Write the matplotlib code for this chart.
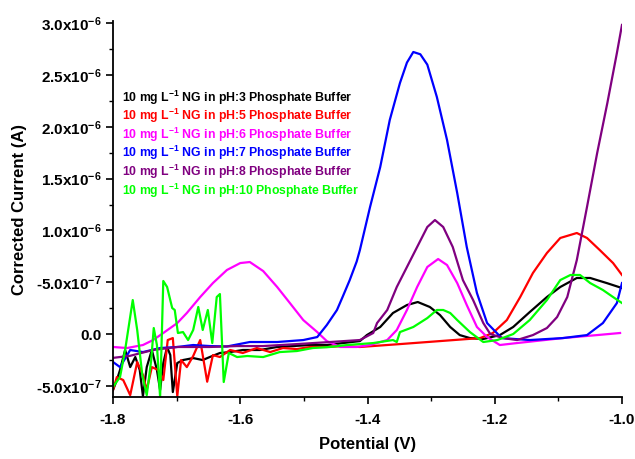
import numpy as np
import matplotlib
matplotlib.use('Agg')
import matplotlib.pyplot as plt
from matplotlib.ticker import FixedLocator, MultipleLocator

plt.rcParams['font.family'] = ['Liberation Sans', 'DejaVu Sans']
plt.rcParams['font.weight'] = 'bold'
plt.rcParams['mathtext.fontset'] = 'custom'
plt.rcParams['mathtext.rm'] = 'Liberation Sans:bold'
plt.rcParams['mathtext.bf'] = 'Liberation Sans:bold'
plt.rcParams['mathtext.default'] = 'bf'

# datos (corriente en unidades de 1e-7 A)
v_ph3 = [-1.800, -1.794, -1.789, -1.781, -1.773, -1.765, -1.758, -1.753, -1.747, -1.739,
         -1.731, -1.726, -1.721, -1.715, -1.710, -1.706, -1.699, -1.690, -1.674, -1.659,
         -1.648, -1.632, -1.616, -1.596, -1.569, -1.542, -1.517, -1.490, -1.464, -1.439,
         -1.412, -1.401, -1.380, -1.360, -1.338, -1.321, -1.302, -1.286, -1.270, -1.255,
         -1.239, -1.218, -1.192, -1.171, -1.145, -1.118, -1.097, -1.071, -1.050, -1.024, -1.000]
i_ph3 = [-5.4, -4.44, -3.47, -1.54, -3.19, -2.22, -3.47, -6.0, -3.19, -1.54,
         -3.47, -5.4, -2.80, -1.25, -2.03, -5.6, -2.80, -2.51, -2.32, -2.51,
         -2.22, -1.83, -1.74, -1.54, -1.54, -1.25, -1.16, -1.06, -1.06, -0.87,
         -0.68, -0.10, 0.68, 2.03, 2.80, 3.09, 2.61, 1.83, 0.68, -0.10,
         -0.39, -0.48, -0.10, 0.68, 2.12, 3.57, 4.54, 5.41, 5.41, 4.92, 4.44]

v_ph5 = [-1.800, -1.794, -1.784, -1.773, -1.762, -1.753, -1.747, -1.739, -1.729, -1.721,
         -1.714, -1.706, -1.699, -1.693, -1.684, -1.674, -1.663, -1.652, -1.643, -1.632,
         -1.616, -1.596, -1.574, -1.553, -1.533, -1.511, -1.490, -1.464, -1.439, -1.412,
         -1.349, -1.286, -1.223, -1.203, -1.181, -1.160, -1.140, -1.118, -1.097, -1.071,
         -1.055, -1.035, -1.014, -1.000]
i_ph5 = [-5.4, -4.15, -4.44, -5.9, -2.70, -3.96, -5.4, -3.19, -3.47, -4.44,
         -0.58, -0.39, -6.0, -2.51, -3.19, -2.12, -0.58, -4.6, -2.03, -2.22,
         -1.54, -1.83, -1.35, -1.74, -1.35, -1.45, -1.25, -1.25, -1.16, -1.25,
         -0.97, -0.68, -0.39, 0.10, 1.35, 3.57, 5.89, 7.82, 9.27, 9.75,
         9.27, 8.11, 6.85, 5.70]

v_ph6 = [-1.800, -1.778, -1.753, -1.737, -1.721, -1.699, -1.684, -1.663, -1.643, -1.621,
         -1.600, -1.585, -1.564, -1.542, -1.522, -1.501, -1.479, -1.464, -1.443, -1.417,
         -1.396, -1.369, -1.354, -1.338, -1.322, -1.306, -1.289, -1.275, -1.259, -1.244,
         -1.228, -1.212, -1.192, -1.165, -1.093, -1.039, -1.003]
i_ph6 = [-1.25, -1.35, -1.06, -0.58, 0.10, 1.06, 2.03, 3.57, 4.92, 6.18,
         6.85, 6.95, 6.08, 4.54, 2.99, 1.35, 0.19, -0.68, -1.25, -1.25,
         -1.06, -0.58, 0.39, 2.32, 4.54, 6.47, 7.24, 6.66, 4.92, 2.80,
         0.68, -0.29, -1.06, -0.87, -0.39, -0.10, 0.10]

v_ph7 = [-1.800, -1.789, -1.773, -1.753, -1.726, -1.699, -1.674, -1.648, -1.621, -1.585,
         -1.542, -1.501, -1.479, -1.464, -1.448, -1.439, -1.428, -1.417, -1.412, -1.396,
         -1.380, -1.365, -1.349, -1.338, -1.328, -1.317, -1.306, -1.291, -1.275, -1.259,
         -1.244, -1.228, -1.212, -1.189, -1.145, -1.093, -1.055, -1.030, -1.008, -1.000]
i_ph7 = [-2.70, -3.19, -1.54, -1.74, -1.35, -1.25, -1.06, -1.16, -1.20, -0.77,
         -0.77, -0.58, -0.29, 0.87, 2.32, 3.60, 5.20, 7.00, 8.10, 12.26,
         16.12, 20.66, 24.23, 26.2, 27.22, 27.0, 26.0, 22.88, 18.73, 13.61,
         8.40, 3.96, 1.06, -0.39, -0.58, -0.39, -0.10, 1.06, 2.99, 4.92]

v_ph8 = [-1.800, -1.773, -1.737, -1.699, -1.648, -1.605, -1.564, -1.511, -1.459, -1.412,
         -1.391, -1.385, -1.369, -1.354, -1.338, -1.322, -1.306, -1.294, -1.281, -1.266,
         -1.250, -1.234, -1.218, -1.207, -1.187, -1.165, -1.140, -1.118, -1.102, -1.086,
         -1.071, -1.055, -1.039, -1.023, -1.008, -1.000]
i_ph8 = [-2.3, -2.1, -1.54, -1.25, -1.25, -1.16, -1.16, -0.97, -0.77, -0.58,
         0.10, 1.06, 2.32, 4.54, 6.47, 8.40, 10.33, 11.00, 10.33, 8.40,
         5.20, 3.28, 1.06, 0.0, -0.39, -0.58, -0.10, 0.58, 1.64, 3.57,
         7.14, 12.26, 17.47, 22.30, 27.12, 29.83]

v_ph10 = [-1.800, -1.789, -1.781, -1.775, -1.769, -1.762, -1.754, -1.747, -1.740, -1.736,
          -1.731, -1.726, -1.721, -1.715, -1.707, -1.703, -1.698, -1.690, -1.682, -1.674,
          -1.666, -1.659, -1.651, -1.644, -1.637, -1.632, -1.626, -1.618, -1.605, -1.589,
          -1.564, -1.538, -1.511, -1.486, -1.459, -1.432, -1.391, -1.360, -1.354, -1.349,
          -1.328, -1.306, -1.291, -1.281, -1.270, -1.259, -1.239, -1.218, -1.196, -1.171,
          -1.145, -1.118, -1.097, -1.081, -1.066, -1.050, -1.030, -1.014, -1.000]
i_ph10 = [-5.1, -4.15, -1.54, 0.87, 3.28, 0.39, -3.96, -5.9, -2.51, 0.58,
          -1.06, -6.1, 5.12, 4.54, 2.51, 2.32, 0.10, 0.19, -0.58, 0.39,
          2.61, 0.39, 2.32, -0.87, 3.57, 3.86, -4.63, -1.83, -2.22, -2.12,
          -2.22, -1.74, -1.64, -1.35, -1.25, -1.06, -0.87, -0.58, -0.77, 0.19,
          0.68, 1.54, 2.32, 2.32, 2.03, 1.35, 0.19, -0.77, -0.58, 0.0,
          1.35, 3.28, 5.21, 5.70, 5.70, 4.92, 4.25, 3.57, 2.99]

series = [(v_ph3, i_ph3, 'black', '3'),
          (v_ph5, i_ph5, 'red', '5'),
          (v_ph6, i_ph6, '#FF00FF', '6'),
          (v_ph7, i_ph7, 'blue', '7'),
          (v_ph8, i_ph8, '#800080', '8'),
          (v_ph10, i_ph10, '#00FF00', '10')]

y_ticks = [-5e-7, 0, 5e-7, 1e-6, 1.5e-6, 2e-6, 2.5e-6, 3e-6]
y_ticklabels = ['-5.0x10$^{-7}$', '0.0', '-5.0x10$^{-7}$', '1.0x10$^{-6}$',
                '1.5x10$^{-6}$', '2.0x10$^{-6}$', '2.5x10$^{-6}$', '3.0x10$^{-6}$']

fig = plt.figure(figsize=(6.35, 4.59), dpi=100)
ax = fig.add_axes([0.178, 0.135, 0.8015, 0.819])

for v, i, c, ph in series:
    ax.plot(v, np.array(i) * 1e-7, color=c, lw=1.6)

ax.set_xlim(-1.8, -1.0)
ax.set_ylim(-6.08e-7, 3.02e-6)
ax.xaxis.set_minor_locator(MultipleLocator(0.1))
ax.set_xticks([-1.8, -1.6, -1.4, -1.2, -1.0])
ax.set_xticklabels(['-1.8', '-1.6', '-1.4', '-1.2', '-1.0'])
ax.yaxis.set_major_locator(FixedLocator(y_ticks))
ax.set_yticklabels(y_ticklabels)
ax.yaxis.set_minor_locator(MultipleLocator(2.5e-7))

ax.spines['top'].set_visible(False)
ax.spines['right'].set_visible(False)
ax.spines['left'].set_linewidth(1.3)
ax.spines['bottom'].set_linewidth(1.3)
ax.tick_params(which='major', direction='out', length=5, width=1.2, labelsize=11)
ax.tick_params(which='minor', direction='out', length=3, width=1.0)
ax.tick_params(axis='x', which='major', pad=6.5)
for lbl in ax.get_xticklabels() + ax.get_yticklabels():
    lbl.set_fontweight('bold')

ax.set_xlabel('Potential (V)', fontsize=12, fontweight='bold', labelpad=7)
ax.set_ylabel('Corrected Current (A)', fontsize=12, fontweight='bold', labelpad=6)

for k, (v, i, c, ph) in enumerate(series):
    ax.text(0.0177, 0.797 - k * 0.0495,
            '10 mg L$^{-1}$ NG in pH:' + ph + ' Phosphate Buffer',
            transform=ax.transAxes, color=c, fontsize=8.8, fontweight='bold',
            va='center', ha='left')

fig.savefig('out.png', dpi=100)
